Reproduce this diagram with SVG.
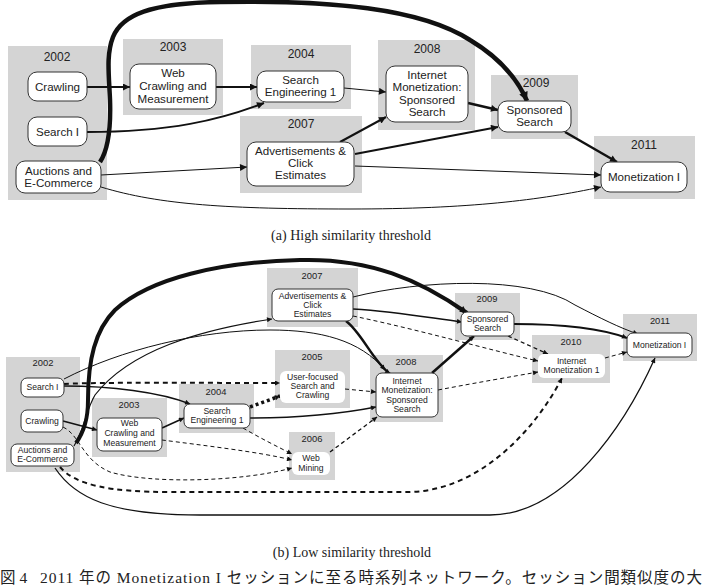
<svg xmlns="http://www.w3.org/2000/svg" width="704" height="586" viewBox="0 0 704 586">
<style>
.cl{fill:#d4d4d4}
.nd{fill:#fff;stroke:#333;stroke-width:1}
.nb{fill:#fff;stroke:none}
.ta{font-family:"Liberation Sans",Arial,sans-serif;font-size:11.6px;fill:#222;text-anchor:middle}
.ya{font-family:"Liberation Sans",Arial,sans-serif;font-size:12px;fill:#222;text-anchor:middle}
.tb{font-family:"Liberation Sans",Arial,sans-serif;font-size:8.6px;fill:#222;text-anchor:middle}
.yb{font-family:"Liberation Sans",Arial,sans-serif;font-size:9.4px;fill:#222;text-anchor:middle}
.cap{font-family:"Liberation Serif","Times New Roman",serif;font-size:14px;fill:#222;text-anchor:middle}
.jp{font-family:"Liberation Serif","Noto Sans CJK JP",serif;font-size:15.5px;fill:#222}
.e{fill:none;stroke:#111}
</style>
<defs>
<marker id="ma" viewBox="0 0 10 10" refX="10" refY="5" markerWidth="9" markerHeight="7" markerUnits="userSpaceOnUse" orient="auto"><path d="M0,0 L10,5 L0,10 z" fill="#111"/></marker>
<marker id="mb" viewBox="0 0 10 10" refX="10" refY="5" markerWidth="12" markerHeight="9" markerUnits="userSpaceOnUse" orient="auto"><path d="M0,0 L10,5 L0,10 z" fill="#111"/></marker>
<marker id="ms" viewBox="0 0 10 10" refX="10" refY="5" markerWidth="7" markerHeight="5" markerUnits="userSpaceOnUse" orient="auto"><path d="M0,0 L10,5 L0,10 z" fill="#111"/></marker>
<marker id="mt" viewBox="0 0 10 10" refX="10" refY="5" markerWidth="9" markerHeight="7" markerUnits="userSpaceOnUse" orient="auto"><path d="M0,0 L10,5 L0,10 z" fill="#111"/></marker>
</defs>

<!-- Panel (a) clusters -->
<g id="a-clusters">
<rect class="cl" x="8" y="46" width="99" height="154"/><text class="ya" x="57" y="61">2002</text>
<rect class="cl" x="123" y="39" width="100" height="76"/><text class="ya" x="173" y="51">2003</text>
<rect class="cl" x="251" y="45" width="100" height="64"/><text class="ya" x="301" y="58">2004</text>
<rect class="cl" x="240" y="116" width="122" height="77"/><text class="ya" x="301" y="128">2007</text>
<rect class="cl" x="378" y="40" width="97" height="90"/><text class="ya" x="427" y="53">2008</text>
<rect class="cl" x="491" y="75" width="87" height="64"/><text class="ya" x="536" y="87">2009</text>
<rect class="cl" x="594" y="136" width="101" height="63"/><text class="ya" x="644" y="149">2011</text>
</g>

<!-- Panel (a) connectors -->
<g id="a-edges">
<path class="e" stroke-width="2" marker-end="url(#ma)" d="M87,87 L130,87"/>
<path class="e" stroke-width="2" marker-end="url(#ma)" d="M216,87 L257,87"/>
<path class="e" stroke-width="2" marker-end="url(#ma)" d="M87,132 C170,132 220,120 264,103"/>
<path class="e" stroke-width="4.5" marker-end="url(#mb)" d="M100,162 C108,150 111,130 110,100 C109,75 106,55 113,37 C122,15 150,3 220,2 C330,0 420,8 470,40 C500,58 518,80 527,101"/>
<path class="e" stroke-width="1" marker-end="url(#ma)" d="M344,88 L386,92"/>
<path class="e" stroke-width="2" marker-end="url(#ma)" d="M340,142 L386,117"/>
<path class="e" stroke-width="2" marker-end="url(#ma)" d="M355,154 L498,127"/>
<path class="e" stroke-width="1" marker-end="url(#ma)" d="M355,166 L601,175"/>
<path class="e" stroke-width="1" marker-end="url(#ma)" d="M101,175 L247,167"/>
<path class="e" stroke-width="1" marker-end="url(#ma)" d="M101,187 C160,205 230,209 350,209 C470,209 540,200 601,187"/>
<path class="e" stroke-width="2.5" marker-end="url(#ma)" d="M468,103 L498,110"/>
<path class="e" stroke-width="2.5" marker-end="url(#ma)" d="M565,132 L617,162"/>
</g>

<!-- Panel (a) nodes -->
<g id="a-crawling"><rect class="nd" x="28" y="72" width="59" height="29" rx="9"/><text class="ta" x="57.5" y="91">Crawling</text></g>
<g id="a-searchI"><rect class="nd" x="28" y="117" width="59" height="29" rx="9"/><text class="ta" x="57.5" y="136">Search I</text></g>
<g id="a-auctions"><rect class="nd" x="16" y="161" width="85" height="32" rx="9"/><text class="ta" x="58.5" y="175">Auctions and</text><text class="ta" x="58.5" y="187">E-Commerce</text></g>
<g id="a-webcrawl"><rect class="nd" x="130" y="64" width="86" height="45" rx="9"/><text class="ta" x="173" y="77">Web</text><text class="ta" x="173" y="90">Crawling and</text><text class="ta" x="173" y="103">Measurement</text></g>
<g id="a-se1"><rect class="nd" x="257" y="71" width="87" height="31" rx="9"/><text class="ta" x="300.5" y="84">Search</text><text class="ta" x="300.5" y="96">Engineering 1</text></g>
<g id="a-adv"><rect class="nd" x="247" y="142" width="107" height="44" rx="9"/><text class="ta" x="300.5" y="155">Advertisements &amp;</text><text class="ta" x="300.5" y="167">Click</text><text class="ta" x="300.5" y="179">Estimates</text></g>
<g id="a-imss"><rect class="nd" x="386" y="66" width="82" height="56" rx="9"/><text class="ta" x="427" y="79">Internet</text><text class="ta" x="427" y="91">Monetization:</text><text class="ta" x="427" y="104">Sponsored</text><text class="ta" x="427" y="116">Search</text></g>
<g id="a-sponsored"><rect class="nd" x="498" y="101" width="73" height="31" rx="9"/><text class="ta" x="534.5" y="114">Sponsored</text><text class="ta" x="534.5" y="126">Search</text></g>
<g id="a-moneti"><rect class="nd" x="601" y="162" width="86" height="30" rx="9"/><text class="ta" x="644" y="181">Monetization I</text></g>

<text class="cap" x="351" y="240">(a) High similarity threshold</text>

<!-- Panel (b) clusters -->
<g id="b-clusters">
<rect class="cl" x="6" y="357" width="74" height="115"/><text class="yb" x="43" y="366">2002</text>
<rect class="cl" x="92" y="398" width="75" height="59"/><text class="yb" x="129" y="408">2003</text>
<rect class="cl" x="179" y="384" width="75" height="49"/><text class="yb" x="216" y="395">2004</text>
<rect class="cl" x="275" y="350" width="75" height="58"/><text class="yb" x="312" y="360">2005</text>
<rect class="cl" x="289" y="432" width="46" height="48"/><text class="yb" x="312" y="442">2006</text>
<rect class="cl" x="267" y="268" width="91" height="59"/><text class="yb" x="312" y="279">2007</text>
<rect class="cl" x="370" y="355" width="73" height="67"/><text class="yb" x="406" y="365">2008</text>
<rect class="cl" x="455" y="293" width="65" height="47"/><text class="yb" x="487" y="302">2009</text>
<rect class="cl" x="532" y="335" width="78" height="48"/><text class="yb" x="571" y="345">2010</text>
<rect class="cl" x="623" y="314" width="74" height="47"/><text class="yb" x="660" y="324">2011</text>
</g>

<!-- Panel (b) connectors -->
<g id="b-edges">
<path class="e" stroke-width="4" marker-end="url(#mt)" d="M76,443 C84,432 88,420 88,400 C88,360 95,330 115,310 C150,278 220,262 300,260 C370,258 420,280 467,313"/>
<path class="e" stroke-width="1" marker-end="url(#ms)" d="M64,379 C120,350 200,330 270,330 C320,330 360,340 385,370"/>
<path class="e" stroke-width="1.2" marker-end="url(#ms)" d="M74,446 C84,430 86,410 95,395 C130,350 200,330 272,319"/>
<path class="e" stroke-width="2" stroke-dasharray="5,4" marker-end="url(#ms)" d="M64,384 C100,382 200,383 280,383"/>
<path class="e" stroke-width="1.6" marker-end="url(#ms)" d="M64,386 C110,386 160,392 190,404"/>
<path class="e" stroke-width="1.6" marker-end="url(#ms)" d="M63,421 L97,430"/>
<path class="e" stroke-width="1.6" marker-end="url(#ms)" d="M162,428 L184,418"/>
<path class="e" stroke-width="3.5" stroke-dasharray="3,3" marker-end="url(#ms)" d="M250,407 L280,396"/>
<path class="e" stroke-width="1.6" marker-end="url(#ms)" d="M250,418 C300,418 340,414 376,407"/>
<path class="e" stroke-width="1" stroke-dasharray="4,3" marker-end="url(#ms)" d="M243,428 C260,438 280,448 292,454"/>
<path class="e" stroke-width="1" stroke-dasharray="4,3" marker-end="url(#ms)" d="M162,440 C200,445 260,452 292,460"/>
<path class="e" stroke-width="1" stroke-dasharray="4,3" marker-end="url(#ms)" d="M63,427 C80,435 82,460 110,472 C150,484 240,482 292,468"/>
<path class="e" stroke-width="1" stroke-dasharray="4,3" marker-end="url(#ms)" d="M345,389 L376,392"/>
<path class="e" stroke-width="1.3" stroke-dasharray="4,3" marker-end="url(#ms)" d="M330,452 L377,417"/>
<path class="e" stroke-width="2" stroke-dasharray="5,4" marker-end="url(#ms)" d="M60,467 C75,485 110,492 170,492 L410,492 C480,490 535,430 562,378"/>
<path class="e" stroke-width="1.3" marker-end="url(#ms)" d="M55,468 C75,498 110,515 200,515 L490,515 C565,515 625,425 655,358"/>
<path class="e" stroke-width="1.6" marker-end="url(#ms)" d="M353,309 C400,312 430,318 462,322"/>
<path class="e" stroke-width="2.5" marker-end="url(#ms)" d="M346,321 C362,333 372,360 390,374"/>
<path class="e" stroke-width="1" stroke-dasharray="4,3" marker-end="url(#ms)" d="M353,316 C420,330 490,350 538,361"/>
<path class="e" stroke-width="1" marker-end="url(#ms)" d="M353,297 C420,280 530,275 575,305 C600,318 620,328 638,334"/>
<path class="e" stroke-width="2.5" marker-end="url(#ms)" d="M432,373 L474,336"/>
<path class="e" stroke-width="1" stroke-dasharray="4,3" marker-end="url(#ms)" d="M438,390 C480,382 510,377 538,372"/>
<path class="e" stroke-width="1.3" stroke-dasharray="4,3" marker-end="url(#ms)" d="M508,336 L548,354"/>
<path class="e" stroke-width="2" marker-end="url(#ms)" d="M514,324 C560,324 600,328 627,338"/>
<path class="e" stroke-width="1" stroke-dasharray="4,3" marker-end="url(#ms)" d="M605,358 L627,352"/>
</g>

<!-- Panel (b) nodes -->
<g id="b-searchI"><rect class="nd" x="21" y="378" width="43" height="19" rx="6"/><text class="tb" x="42.5" y="390">Search I</text></g>
<g id="b-crawling"><rect class="nd" x="21" y="410" width="42" height="22" rx="6"/><text class="tb" x="42" y="424">Crawling</text></g>
<g id="b-auctions"><rect class="nd" x="11" y="444" width="63" height="22" rx="6"/><text class="tb" x="42.5" y="453">Auctions and</text><text class="tb" x="42.5" y="462">E-Commerce</text></g>
<g id="b-webcrawl"><rect class="nd" x="97" y="418" width="65" height="33" rx="6"/><text class="tb" x="129.5" y="426">Web</text><text class="tb" x="129.5" y="436">Crawling and</text><text class="tb" x="129.5" y="446">Measurement</text></g>
<g id="b-se1"><rect class="nd" x="184" y="404" width="66" height="24" rx="6"/><text class="tb" x="217" y="414">Search</text><text class="tb" x="217" y="423">Engineering 1</text></g>
<g id="b-userfocused"><rect class="nb" x="280" y="371" width="65" height="32" rx="6"/><text class="tb" x="312.5" y="380">User-focused</text><text class="tb" x="312.5" y="389">Search and</text><text class="tb" x="312.5" y="398">Crawling</text></g>
<g id="b-webmining"><rect class="nb" x="292" y="452" width="38" height="23" rx="6"/><text class="tb" x="311" y="461">Web</text><text class="tb" x="311" y="471">Mining</text></g>
<g id="b-adv"><rect class="nd" x="272" y="289" width="81" height="32" rx="6"/><text class="tb" x="312.5" y="299">Advertisements &amp;</text><text class="tb" x="312.5" y="308">Click</text><text class="tb" x="312.5" y="317">Estimates</text></g>
<g id="b-imss"><rect class="nd" x="376" y="373" width="62" height="44" rx="6"/><text class="tb" x="407" y="384">Internet</text><text class="tb" x="407" y="393">Monetization:</text><text class="tb" x="407" y="403">Sponsored</text><text class="tb" x="407" y="412">Search</text></g>
<g id="b-sponsored"><rect class="nd" x="461" y="312" width="53" height="24" rx="6"/><text class="tb" x="487.5" y="322">Sponsored</text><text class="tb" x="487.5" y="331">Search</text></g>
<g id="b-im1"><rect class="nb" x="538" y="354" width="67" height="24" rx="6"/><text class="tb" x="571.5" y="364">Internet</text><text class="tb" x="571.5" y="373">Monetization 1</text></g>
<g id="b-moneti"><rect class="nd" x="627" y="333" width="65" height="24" rx="6"/><text class="tb" x="659.5" y="348">Monetization I</text></g>

<text class="cap" x="352" y="557">(b) Low similarity threshold</text>
<text class="jp" x="0" y="583">図 4</text>
<text class="jp" x="40" y="583" textLength="662" lengthAdjust="spacing">2011 年の Monetization I セッションに至る時系列ネットワーク。セッション間類似度の大</text>
</svg>
